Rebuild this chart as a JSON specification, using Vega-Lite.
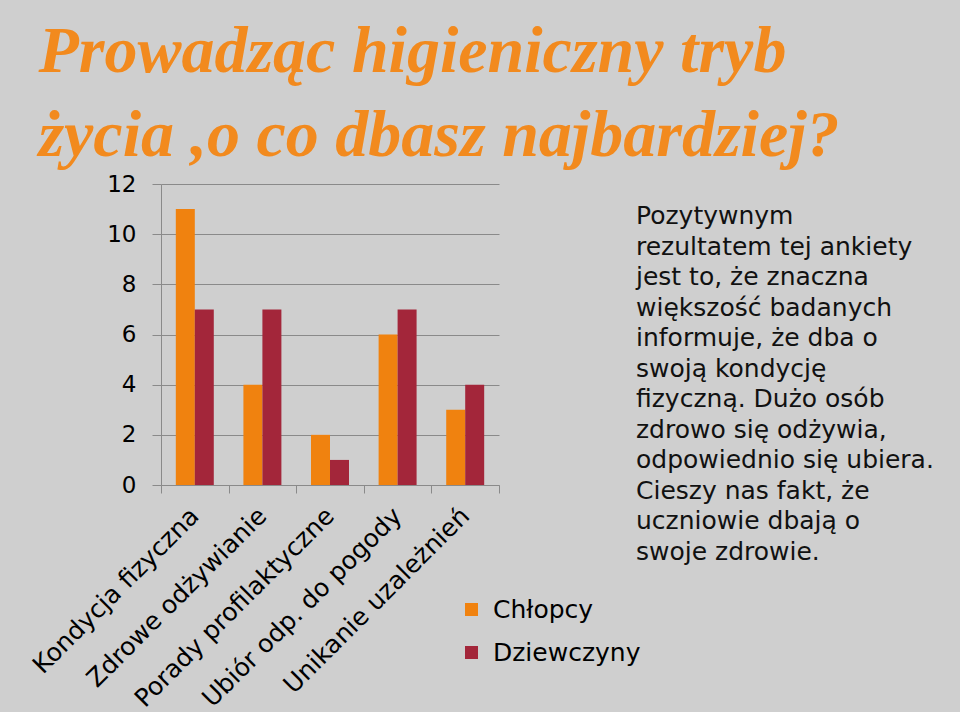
{
  "$schema": "https://vega.github.io/schema/vega-lite/v6.json",
  "background": "#cfcfcf",
  "padding": {"left": 28, "top": 19, "right": 32, "bottom": 2},
  "title": {
    "text": ["Prowadząc higieniczny tryb", "życia ,o co dbasz najbardziej?"],
    "anchor": "start",
    "frame": "bounds",
    "font": "Liberation Serif",
    "fontSize": 66,
    "fontWeight": "bold",
    "fontStyle": "italic",
    "color": "#F28A1E",
    "lineHeight": 84,
    "offset": 0,
    "dx": 10,
    "dy": -3
  },
  "spacing": 135,
  "hconcat": [
    {
      "width": 338,
      "height": 301,
      "data": {
        "values": [
          {"kategoria": "Kondycja fizyczna", "grupa": "Chłopcy", "liczba": 11},
          {"kategoria": "Kondycja fizyczna", "grupa": "Dziewczyny", "liczba": 7},
          {"kategoria": "Zdrowe odżywianie", "grupa": "Chłopcy", "liczba": 4},
          {"kategoria": "Zdrowe odżywianie", "grupa": "Dziewczyny", "liczba": 7},
          {"kategoria": "Porady profilaktyczne", "grupa": "Chłopcy", "liczba": 2},
          {"kategoria": "Porady profilaktyczne", "grupa": "Dziewczyny", "liczba": 1},
          {"kategoria": "Ubiór odp. do pogody", "grupa": "Chłopcy", "liczba": 6},
          {"kategoria": "Ubiór odp. do pogody", "grupa": "Dziewczyny", "liczba": 7},
          {"kategoria": "Unikanie uzależnień", "grupa": "Chłopcy", "liczba": 3},
          {"kategoria": "Unikanie uzależnień", "grupa": "Dziewczyny", "liczba": 4}
        ]
      },
      "mark": {"type": "bar"},
      "encoding": {
        "x": {
          "field": "kategoria",
          "type": "nominal",
          "sort": null,
          "scale": {"paddingInner": 0, "paddingOuter": 0},
          "axis": {
            "title": null,
            "labelAngle": -45,
            "tickBand": "extent",
            "tickSize": 8,
            "labelPadding": 10,
            "labelOffset": -9,
            "labelFontSize": 25,
            "labelLimit": 0,
            "grid": false
          }
        },
        "xOffset": {
          "field": "grupa",
          "type": "nominal",
          "sort": ["Chłopcy", "Dziewczyny"],
          "scale": {"paddingInner": 0, "paddingOuter": 0.78}
        },
        "y": {
          "field": "liczba",
          "type": "quantitative",
          "scale": {"domain": [0, 12]},
          "axis": {
            "title": null,
            "values": [0, 2, 4, 6, 8, 10, 12],
            "tickSize": 9,
            "labelPadding": 16,
            "labelFontSize": 23,
            "grid": true
          }
        },
        "color": {
          "field": "grupa",
          "type": "nominal",
          "scale": {"domain": ["Chłopcy", "Dziewczyny"], "range": ["#F0820F", "#A3263A"]},
          "legend": {
            "title": null,
            "orient": "none",
            "legendX": 298,
            "legendY": 413,
            "symbolType": "square",
            "symbolSize": 170,
            "symbolStrokeWidth": 0,
            "labelFontSize": 25,
            "labelFont": "DejaVu Sans",
            "labelColor": "#000000",
            "rowPadding": 17,
            "labelOffset": 9,
            "labelLimit": 0
          }
        }
      }
    },
    {
      "width": 2,
      "height": 80,
      "data": {
        "values": [
          {"tekst": "Pozytywnym\nrezultatem tej ankiety\njest to, że znaczna\nwiększość badanych\ninformuje, że dba o\nswoją kondycję\nfizyczną. Dużo osób\nzdrowo się odżywia,\nodpowiednio się ubiera.\nCieszy nas fakt, że\nuczniowie dbają o\nswoje zdrowie."}
        ]
      },
      "mark": {
        "type": "text",
        "align": "left",
        "baseline": "alphabetic",
        "lineBreak": "\n",
        "lineHeight": 30.5,
        "fontSize": 25,
        "font": "DejaVu Sans",
        "color": "#111111"
      },
      "encoding": {"text": {"field": "tekst", "type": "nominal"}}
    }
  ],
  "config": {
    "view": {"stroke": null},
    "axis": {
      "labelFont": "DejaVu Sans",
      "labelColor": "#000000",
      "domainColor": "#8a8a8a",
      "tickColor": "#8a8a8a",
      "gridColor": "#8a8a8a",
      "gridOpacity": 1,
      "domainWidth": 1,
      "tickWidth": 1
    }
  }
}
